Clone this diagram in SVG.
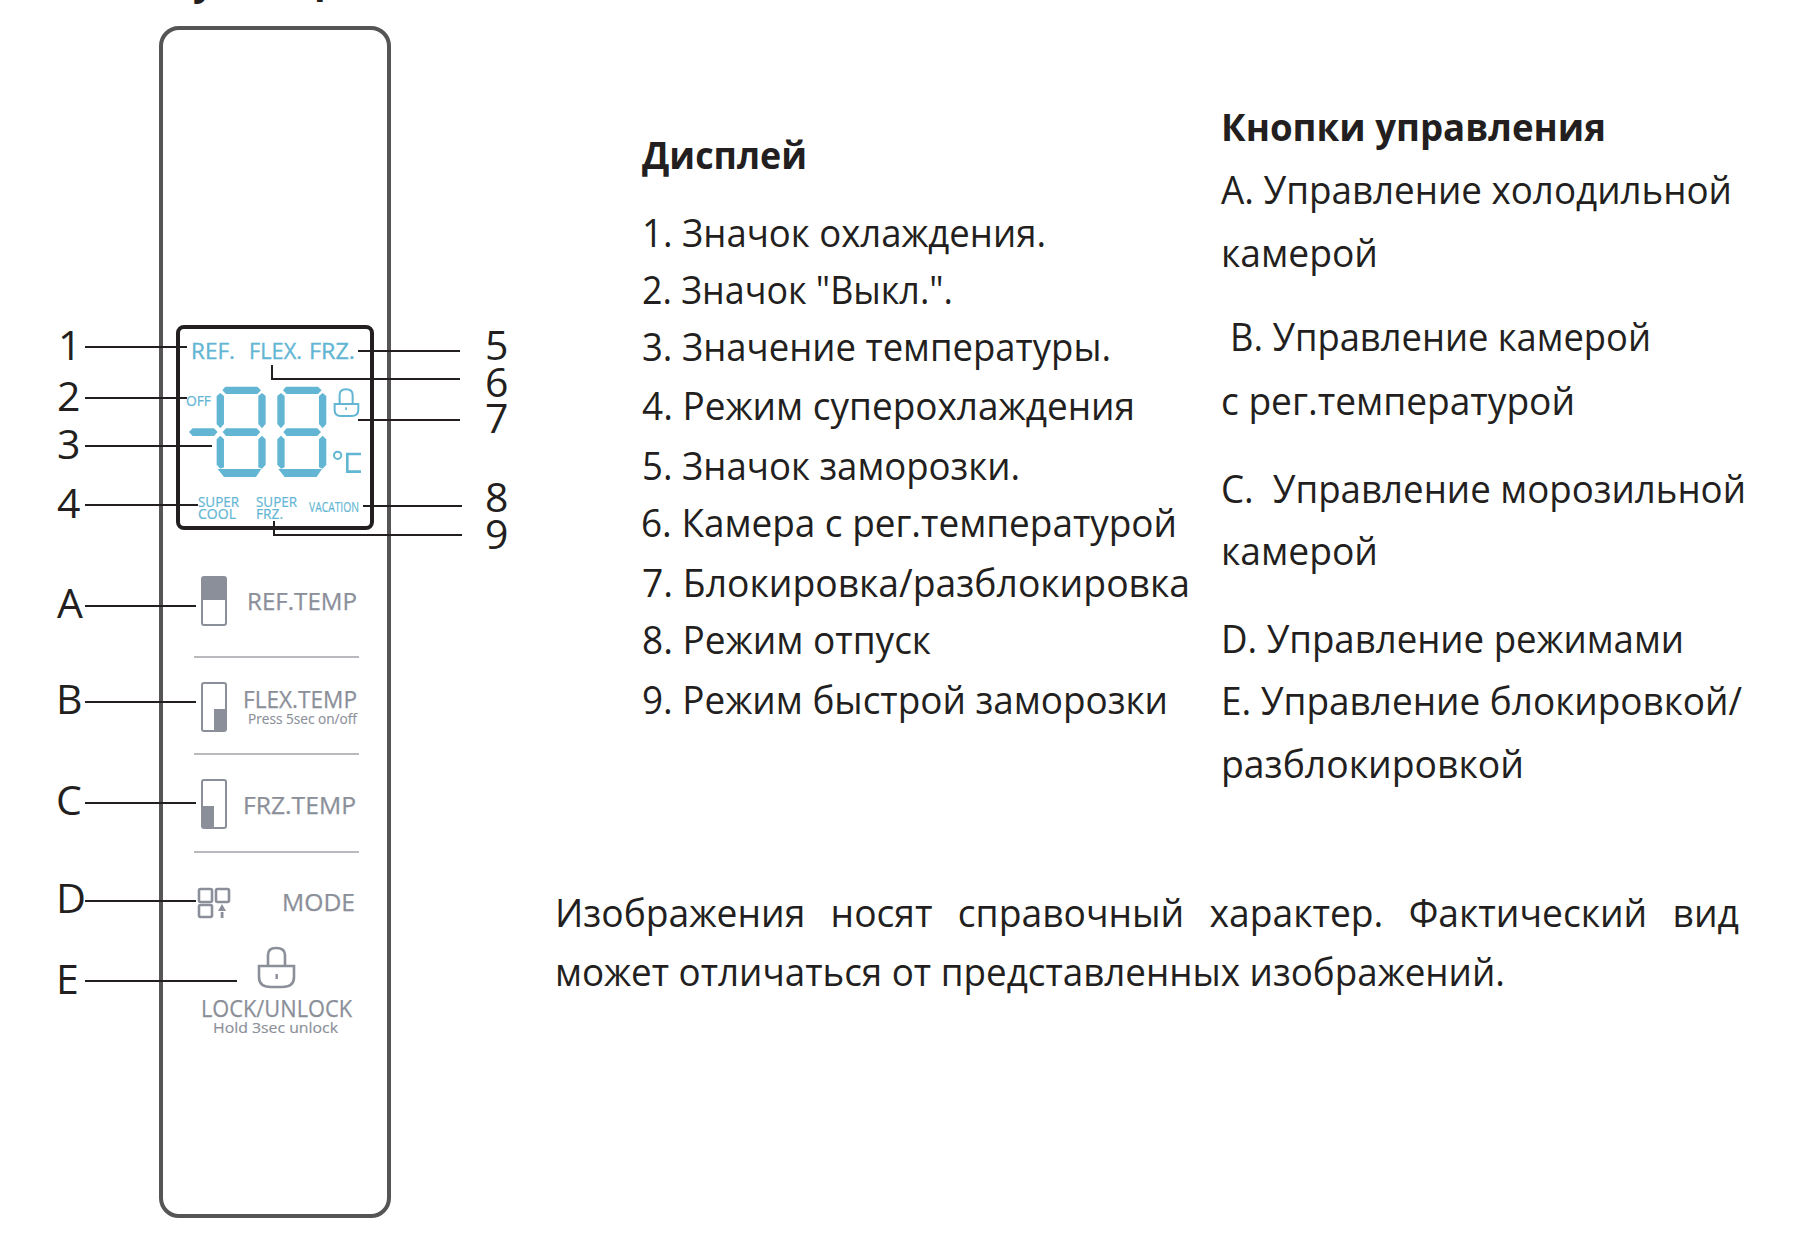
<svg xmlns="http://www.w3.org/2000/svg" width="1820" height="1252" viewBox="0 0 1820 1252">
<style>
text{font-family:"Open Sans","Noto Sans",sans-serif}
.b{font-size:38px;fill:#231f20}
.h{font-size:38px;font-weight:700;fill:#231f20}
.n{font-size:41px;fill:#231f20}
.c{font-size:22px;fill:#62b6d3;stroke:#62b6d3;stroke-width:.35}
.s{font-size:14px;fill:#62b6d3;stroke:#62b6d3;stroke-width:.2}
.g{font-size:24.5px;fill:#8b8f99;stroke:#8b8f99;stroke-width:.25}
.t{font-size:15px;fill:#8b8f99;stroke:#8b8f99;stroke-width:.15}
.k{fill:none;stroke:#231f20;stroke-width:2}
.btn{fill:#fff;stroke:#8b8f99;stroke-width:2}
.fill{fill:#8b8f99}
.dv{stroke:#a0a3a8;stroke-width:1.5}
.ic{fill:none;stroke:#8b8f99;stroke-width:2.6}
.seg{fill:#62b6d3}
</style>
<defs>
<g id="digit">
<path class="seg" d="M547 241L556 230H652L663 241L652 252H558Z"/>
<path class="seg" d="M541 249L552 258V342L541 355L530 342V258Z"/>
<path class="seg" d="M666 249L677 258V342L666 355L655 342V258Z"/>
<path class="seg" d="M548 366L558 355H650L661 366L650 378H558Z"/>
<path class="seg" d="M541 377L552 388V472L541 476L530 464V388Z"/>
<path class="seg" d="M666 377L677 388V464L666 476L655 472V388Z"/>
<path class="seg" d="M533 477H664L648 501H552Z"/>
</g>
</defs>
<text class="h" x="193" y="-5">у</text>
<text class="h" x="314" y="-7">р</text>
<g id="panel"><rect x="161" y="28" width="228" height="1188" rx="18" fill="none" stroke="#555" stroke-width="4"/></g>
<g id="connectors">
<path class="k" d="M85 347H187M85 398H187M85 446H212M85 505H198M358 351H460M272 365V379H460M358 420H460M363 506H462M274 521V535H462M85 606H196M85 702H196M85 803H196M85 901H196M85 981H237"/>
</g>
<g id="lcd">
<rect x="178" y="327" width="194" height="201" rx="6" fill="none" stroke="#231f20" stroke-width="4"/>
<g transform="translate(40 310) scale(.3333)">
<use href="#digit"/>
<use href="#digit" x="182"/>
<path class="seg" d="M447 366L458 355H522L533 366L522 378H458Z"/>
<path fill="none" stroke="#62b6d3" stroke-width="6" d="M899 280V255Q899 238 918 238Q938 238 938 255V280M884 282H955V300Q955 318 935 318H902Q884 318 884 300Z"/>
<circle cx="893" cy="436" r="11" fill="none" stroke="#62b6d3" stroke-width="6"/>
<path fill="none" stroke="#62b6d3" stroke-width="8" d="M963 432H922V485H963"/>
<rect x="916" y="292" width="5" height="8" fill="#62b6d3"/>
</g>
<text class="c" x="191" y="359" textLength="44" lengthAdjust="spacingAndGlyphs">REF.</text>
<text class="c" x="249" y="359" textLength="53" lengthAdjust="spacingAndGlyphs">FLEX.</text>
<text class="c" x="309" y="359" textLength="46" lengthAdjust="spacingAndGlyphs">FRZ.</text>
<text class="s" x="186" y="406" textLength="25" lengthAdjust="spacingAndGlyphs">OFF</text>
<text class="s" x="198" y="507" textLength="41" lengthAdjust="spacingAndGlyphs">SUPER</text>
<text class="s" x="198" y="519" textLength="38" lengthAdjust="spacingAndGlyphs">COOL</text>
<text class="s" x="256" y="507" textLength="41" lengthAdjust="spacingAndGlyphs">SUPER</text>
<text class="s" x="256" y="519" textLength="27" lengthAdjust="spacingAndGlyphs">FRZ.</text>
<text class="s" x="309" y="512" textLength="50" lengthAdjust="spacingAndGlyphs">VACATION</text>
</g>
<g id="callouts">
<text class="n" x="58" y="360">1</text><text class="n" x="57" y="411">2</text><text class="n" x="57" y="459">3</text><text class="n" x="57" y="518">4</text>
<text class="n" x="485" y="360">5</text><text class="n" x="485" y="397">6</text><text class="n" x="485" y="433">7</text><text class="n" x="485" y="512">8</text><text class="n" x="485" y="549">9</text>
<text class="n" x="57" y="618">A</text><text class="n" x="56" y="714">B</text><text class="n" x="56" y="815">C</text><text class="n" x="56" y="913" textLength="30" lengthAdjust="spacingAndGlyphs">D</text><text class="n" x="56" y="994">E</text>
</g>
<g id="btn-a"><rect class="btn" x="202" y="577" width="24" height="48" rx="2"/><rect class="fill" x="202" y="577" width="24" height="23"/><text class="g" x="247" y="610" textLength="110" lengthAdjust="spacingAndGlyphs">REF.TEMP</text></g>
<line class="dv" x1="194" y1="657" x2="359" y2="657"/>
<g id="btn-b"><rect class="btn" x="202" y="683" width="24" height="48" rx="2"/><rect class="fill" x="214" y="709" width="12" height="22"/><text class="g" x="243" y="708" textLength="114" lengthAdjust="spacingAndGlyphs">FLEX.TEMP</text><text class="t" x="248" y="724" textLength="109" lengthAdjust="spacingAndGlyphs">Press 5sec on/off</text></g>
<line class="dv" x1="194" y1="754" x2="359" y2="754"/>
<g id="btn-c"><rect class="btn" x="202" y="780" width="24" height="48" rx="2"/><rect class="fill" x="202" y="806" width="12" height="22"/><text class="g" x="243" y="814" textLength="113" lengthAdjust="spacingAndGlyphs">FRZ.TEMP</text></g>
<line class="dv" x1="194" y1="852" x2="359" y2="852"/>
<g id="btn-d">
<rect class="ic" x="199" y="889" width="13" height="13" rx="1.5"/><rect class="ic" x="216" y="889" width="13" height="13" rx="1.5"/><rect class="ic" x="199" y="905" width="13" height="12" rx="1.5"/>
<path class="fill" d="M222 904L226 911H218ZM220.7 912H223.5V918H220.7Z"/>
<text class="g" x="282" y="911" textLength="73" lengthAdjust="spacingAndGlyphs">MODE</text></g>
<g id="btn-e">
<path class="ic" d="M268 966V955Q268 948 276 948Q285 948 285 955V966M259 966H294V977Q294 987 282 987H271Q259 987 259 977Z"/>
<rect class="fill" x="275.5" y="974" width="2.4" height="5"/>
<text class="g" x="201" y="1017" textLength="151" lengthAdjust="spacingAndGlyphs">LOCK/UNLOCK</text>
<text class="t" x="213" y="1033" textLength="125" lengthAdjust="spacingAndGlyphs">Hold 3sec unlock</text></g>
<g id="display-list">
<text class="h" x="642" y="169" textLength="165" lengthAdjust="spacingAndGlyphs">Дисплей</text>
<text class="b" x="642" y="247" textLength="404" lengthAdjust="spacingAndGlyphs">1. Значок охлаждения.</text>
<text class="b" x="642" y="304" textLength="311" lengthAdjust="spacingAndGlyphs">2. Значок "Выкл.".</text>
<text class="b" x="642" y="361" textLength="469" lengthAdjust="spacingAndGlyphs">3. Значение температуры.</text>
<text class="b" x="642" y="420" textLength="493" lengthAdjust="spacingAndGlyphs">4. Режим суперохлаждения</text>
<text class="b" x="642" y="480" textLength="378" lengthAdjust="spacingAndGlyphs">5. Значок заморозки.</text>
<text class="b" x="641" y="537" textLength="536" lengthAdjust="spacingAndGlyphs">6. Камера с рег.температурой</text>
<text class="b" x="642" y="597" textLength="548" lengthAdjust="spacingAndGlyphs">7. Блокировка/разблокировка</text>
<text class="b" x="642" y="654" textLength="289" lengthAdjust="spacingAndGlyphs">8. Режим отпуск</text>
<text class="b" x="642" y="714" textLength="526" lengthAdjust="spacingAndGlyphs">9. Режим быстрой заморозки</text>
</g>
<g id="buttons-list">
<text class="h" x="1221" y="141" textLength="385" lengthAdjust="spacingAndGlyphs">Кнопки управления</text>
<text class="b" x="1221" y="204" textLength="511" lengthAdjust="spacingAndGlyphs">A. Управление холодильной</text>
<text class="b" x="1221" y="267" textLength="157" lengthAdjust="spacingAndGlyphs">камерой</text>
<text class="b" x="1230" y="351" textLength="421" lengthAdjust="spacingAndGlyphs">B. Управление камерой</text>
<text class="b" x="1221" y="415" textLength="354" lengthAdjust="spacingAndGlyphs">с рег.температурой</text>
<text class="b" x="1221" y="503" textLength="525" lengthAdjust="spacingAndGlyphs" xml:space="preserve">C.  Управление морозильной</text>
<text class="b" x="1221" y="565" textLength="157" lengthAdjust="spacingAndGlyphs">камерой</text>
<text class="b" x="1221" y="653" textLength="463" lengthAdjust="spacingAndGlyphs">D. Управление режимами</text>
<text class="b" x="1221" y="715" textLength="521" lengthAdjust="spacingAndGlyphs">E. Управление блокировкой/</text>
<text class="b" x="1221" y="778" textLength="303" lengthAdjust="spacingAndGlyphs">разблокировкой</text>
</g>
<g id="note">
<text class="b" x="555" y="927" textLength="1184" lengthAdjust="spacingAndGlyphs" word-spacing="16">Изображения носят справочный характер. Фактический вид</text>
<text class="b" x="555" y="986" textLength="950" lengthAdjust="spacingAndGlyphs">может отличаться от представленных изображений.</text>
</g>
</svg>
